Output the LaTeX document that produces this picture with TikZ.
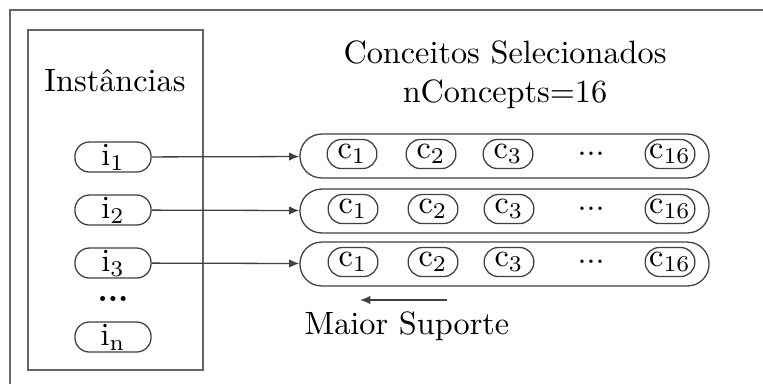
\documentclass[tikz,border=0pt]{standalone}
\usepackage{amsmath,amssymb}
\usepackage{tikz}
\usetikzlibrary{arrows.meta,positioning}

\begin{document}
\begin{tikzpicture}[
    x=0.31pt, y=-0.31pt,
    >={Latex[length=3.2pt,width=2.6pt]},
    frame/.style={
        draw=black!60,
        line width=0.4pt
    },
    inst/.style={
        draw=black!75,
        rectangle,
        rounded corners=4.5pt,
        inner sep=0pt,
        minimum width=23.6pt,
        minimum height=9.3pt
    },
    conc/.style={
        draw=black!75,
        rectangle,
        rounded corners=4.4pt,
        inner xsep=0.6pt,
        inner ysep=0pt,
        minimum width=15.4pt,
        minimum height=9pt
    },
    row/.style={
        draw=black!75,
        rectangle,
        rounded corners=6.7pt,
        minimum width=126.8pt,
        minimum height=13.6pt
    },
    link/.style={
        ->,
        draw=black!75,
        line width=0.4pt
    }
]
\useasboundingbox (0,0) rectangle (763,383);

% outer frame (cut by the page)
\draw[frame] (10,395) |- (775,10);

% instances
\draw[frame] (28,30) rectangle (203,370);
\node (insttitle) at (115,80) {Inst\^ancias};
\node[inst] (i1) at (113,157) {i$_{\mathrm{1}}$};
\node[inst] (i2) at (113,210) {i$_{\mathrm{2}}$};
\node[inst] (i3) at (113,263) {i$_{\mathrm{3}}$};
\node[inner sep=0pt] (idots) at (113,299) {\textbf{...}};
\node[inst] (in) at (113,337) {i$_{\mathrm{n}}$};

% selected concepts
\node[align=center] (conctitle) at (505,75) {Conceitos Selecionados \\ nConcepts=16};

\node[row] (row1) at (504.5,156) {};
\node[conc] (r1c1) at (352,154) {c$_{1}$};
\node[conc] (r1c2) at (431,154) {c$_{2}$};
\node[conc] (r1c3) at (508,154) {c$_{3}$};
\node (r1dots) at (591,154) {...};
\node[conc] (r1c16) at (670,154) {c$_{16}$};

\node[row] (row2) at (504.5,211) {};
\node[conc] (r2c1) at (353,209) {c$_{1}$};
\node[conc] (r2c2) at (433,209) {c$_{2}$};
\node[conc] (r2c3) at (509,209) {c$_{3}$};
\node (r2dots) at (591,209) {...};
\node[conc] (r2c16) at (670,209) {c$_{16}$};

\node[row] (row3) at (504.5,264) {};
\node[conc] (r3c1) at (353,262) {c$_{1}$};
\node[conc] (r3c2) at (433,262) {c$_{2}$};
\node[conc] (r3c3) at (509,262) {c$_{3}$};
\node (r3dots) at (591,262) {...};
\node[conc] (r3c16) at (670,262) {c$_{16}$};

\draw[link] (i1) -- (row1);
\draw[link] (i2) -- (row2);
\draw[link] (i3) -- (row3);

% support order
\coordinate (supfrom) at (447,300);
\coordinate (supto) at (360,300);
\draw[link] (supfrom) -- (supto);
\node (suplabel) at (407,326) {Maior Suporte};

\end{tikzpicture}
\end{document}
